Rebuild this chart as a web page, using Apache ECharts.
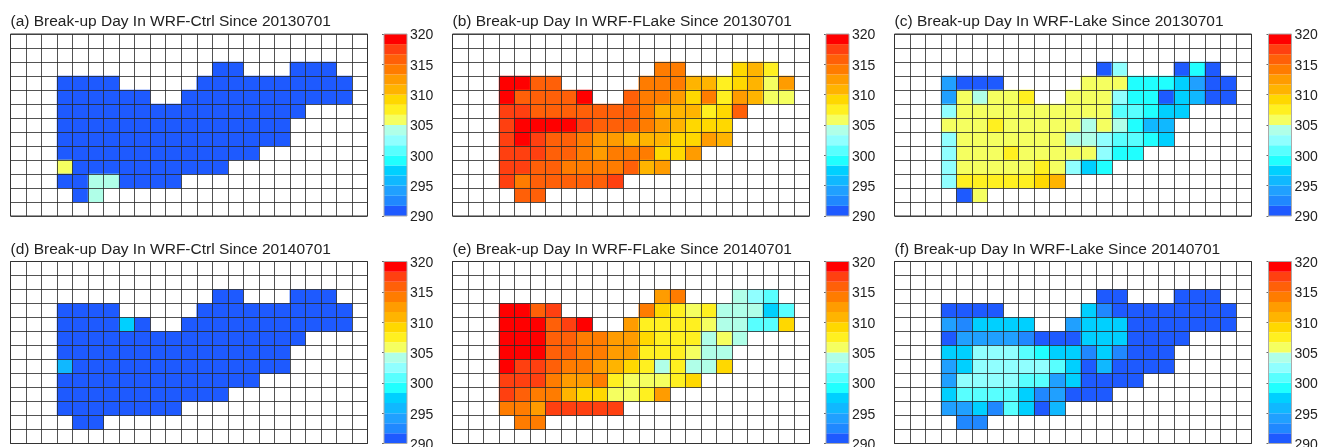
<!DOCTYPE html>
<html>
<head>
<meta charset="utf-8">
<style>html,body{margin:0;padding:0;background:#fff;overflow:hidden}#c{width:1318px;height:447px}</style>
<script src="https://cdn.jsdelivr.net/npm/echarts@6/dist/echarts.min.js"></script>
</head>
<body>
<div id="c"></div>
<script>
const _ = null;
const colCategories = ['c0','c1','c2','c3','c4','c5','c6','c7','c8','c9','c10','c11','c12','c13','c14','c15','c16','c17','c18','c19','c20','c21','c22'];
const rowCategories = ['r0','r1','r2','r3','r4','r5','r6','r7','r8','r9','r10','r11','r12'];
const scaleTicks = [290, 295, 300, 305, 310, 315, 320];
const levelEdges = [290,291.67,293.33,295,296.67,298.33,300,301.67,303.33,305,306.67,308.33,310,311.67,313.33,315,316.67,318.33,320];
const levelColors = ['#1e5aff','#2088ff','#20a0ff','#10b8ff','#00d0ff','#20ffff','#58ffff','#90ffff','#b0ffe8','#f5ff60','#fff020','#ffd800','#ffb400','#ff9c00','#ff7c00','#ff6008','#ff4010','#ff0000'];

const titleA = '(a) Break-up Day In WRF-Ctrl Since 20130701';
const titleB = '(b) Break-up Day In WRF-FLake Since 20130701';
const titleC = '(c) Break-up Day In WRF-Lake Since 20130701';
const titleD = '(d) Break-up Day In WRF-Ctrl Since 20140701';
const titleE = '(e) Break-up Day In WRF-FLake Since 20140701';
const titleF = '(f) Break-up Day In WRF-Lake Since 20140701';

const panelA = [
[_,_,_,_,_,_,_,_,_,_,_,_,_,_,_,_,_,_,_,_,_,_,_],
[_,_,_,_,_,_,_,_,_,_,_,_,_,_,_,_,_,_,_,_,_,_,_],
[_,_,_,_,_,_,_,_,_,_,_,_,_,291,291,_,_,_,291,291,291,_,_],
[_,_,_,291,291,291,291,_,_,_,_,_,291,291,291,291,291,291,291,291,291,291,_],
[_,_,_,291,291,291,291,291,291,_,_,291,291,291,291,291,291,291,291,291,291,291,_],
[_,_,_,291,291,291,291,291,291,291,291,291,291,291,291,291,291,291,291,_,_,_,_],
[_,_,_,291,291,291,291,291,291,291,291,291,291,291,291,291,291,291,_,_,_,_,_],
[_,_,_,291,291,291,291,291,291,291,291,291,291,291,291,291,291,291,_,_,_,_,_],
[_,_,_,291,291,291,291,291,291,291,291,291,291,291,291,291,_,_,_,_,_,_,_],
[_,_,_,306,291,291,291,291,291,291,291,291,291,291,_,_,_,_,_,_,_,_,_],
[_,_,_,291,291,304,304,291,291,291,291,_,_,_,_,_,_,_,_,_,_,_,_],
[_,_,_,_,291,304,_,_,_,_,_,_,_,_,_,_,_,_,_,_,_,_,_],
[_,_,_,_,_,_,_,_,_,_,_,_,_,_,_,_,_,_,_,_,_,_,_]
];
const panelB = [
[_,_,_,_,_,_,_,_,_,_,_,_,_,_,_,_,_,_,_,_,_,_,_],
[_,_,_,_,_,_,_,_,_,_,_,_,_,_,_,_,_,_,_,_,_,_,_],
[_,_,_,_,_,_,_,_,_,_,_,_,_,314,314,_,_,_,309,311,307.5,_,_],
[_,_,_,319,319,316,316,_,_,_,_,_,314,314,314,311,311,307.5,309,311,306,312.5,_],
[_,_,_,319,316,316,316,316,319,_,_,316,314,314,312.5,309,314,307.5,312.5,311,306,306,_],
[_,_,_,317.5,317.5,316,316,316,316,316,316,316,314,311,311,311,307.5,309,316,_,_,_,_],
[_,_,_,317.5,319,319,319,319,317.5,316,316,316,314,312.5,311,309,309,309,_,_,_,_,_],
[_,_,_,317.5,319,317.5,316,316,314,312.5,312.5,311,311,311,309,309,312.5,311,_,_,_,_,_],
[_,_,_,317.5,317.5,317.5,316,316,314,312.5,314,314,314,309,309,312.5,_,_,_,_,_,_,_],
[_,_,_,317.5,317.5,316,316,314,314,314,314,316,311,312.5,_,_,_,_,_,_,_,_,_],
[_,_,_,317.5,314,316,316,316,316,316,317.5,_,_,_,_,_,_,_,_,_,_,_,_],
[_,_,_,_,316,316,_,_,_,_,_,_,_,_,_,_,_,_,_,_,_,_,_],
[_,_,_,_,_,_,_,_,_,_,_,_,_,_,_,_,_,_,_,_,_,_,_]
];
const panelC = [
[_,_,_,_,_,_,_,_,_,_,_,_,_,_,_,_,_,_,_,_,_,_,_],
[_,_,_,_,_,_,_,_,_,_,_,_,_,_,_,_,_,_,_,_,_,_,_],
[_,_,_,_,_,_,_,_,_,_,_,_,_,291,302.5,_,_,_,291,299,291,_,_],
[_,_,_,294,291,291,291,_,_,_,_,_,306,306,306,299,299,299,297.5,294,291,291,_],
[_,_,_,294,306,304,306,306,307.5,_,_,306,306,306,302.5,299,299,291,297.5,296,291,291,_],
[_,_,_,302.5,306,306,306,306,306,306,306,306,306,306,301,301,299,297.5,297.5,_,_,_,_],
[_,_,_,306,306,306,307.5,306,306,306,306,306,304,306,304,299,296,296,_,_,_,_,_],
[_,_,_,302.5,306,306,306,306,306,306,306,304,304,302.5,301,301,299,297.5,_,_,_,_,_],
[_,_,_,302.5,306,306,306,307.5,306,306,306,306,306,302.5,299,299,_,_,_,_,_,_,_],
[_,_,_,302.5,306,306,306,306,306,307.5,306,302.5,297.5,299,_,_,_,_,_,_,_,_,_],
[_,_,_,302.5,307.5,307.5,307.5,307.5,307.5,309,311,_,_,_,_,_,_,_,_,_,_,_,_],
[_,_,_,_,291,306,_,_,_,_,_,_,_,_,_,_,_,_,_,_,_,_,_],
[_,_,_,_,_,_,_,_,_,_,_,_,_,_,_,_,_,_,_,_,_,_,_]
];
const panelD = [
[_,_,_,_,_,_,_,_,_,_,_,_,_,_,_,_,_,_,_,_,_,_,_],
[_,_,_,_,_,_,_,_,_,_,_,_,_,_,_,_,_,_,_,_,_,_,_],
[_,_,_,_,_,_,_,_,_,_,_,_,_,291,291,_,_,_,291,291,291,_,_],
[_,_,_,291,291,291,291,_,_,_,_,_,291,291,291,291,291,291,291,291,291,291,_],
[_,_,_,291,291,291,291,297.5,291,_,_,291,291,291,291,291,291,291,291,291,291,291,_],
[_,_,_,291,291,291,291,291,291,291,291,291,291,291,291,291,291,291,291,_,_,_,_],
[_,_,_,291,291,291,291,291,291,291,291,291,291,291,291,291,291,291,_,_,_,_,_],
[_,_,_,296,291,291,291,291,291,291,291,291,291,291,291,291,291,291,_,_,_,_,_],
[_,_,_,291,291,291,291,291,291,291,291,291,291,291,291,291,_,_,_,_,_,_,_],
[_,_,_,291,291,291,291,291,291,291,291,291,291,291,_,_,_,_,_,_,_,_,_],
[_,_,_,291,291,291,291,291,291,291,291,_,_,_,_,_,_,_,_,_,_,_,_],
[_,_,_,_,291,291,_,_,_,_,_,_,_,_,_,_,_,_,_,_,_,_,_],
[_,_,_,_,_,_,_,_,_,_,_,_,_,_,_,_,_,_,_,_,_,_,_]
];
const panelE = [
[_,_,_,_,_,_,_,_,_,_,_,_,_,_,_,_,_,_,_,_,_,_,_],
[_,_,_,_,_,_,_,_,_,_,_,_,_,_,_,_,_,_,_,_,_,_,_],
[_,_,_,_,_,_,_,_,_,_,_,_,_,312.5,314,_,_,_,304,302.5,301,_,_],
[_,_,_,319,319,316,317.5,_,_,_,_,_,314,309,307.5,306,307.5,304,304,304,297.5,301,_],
[_,_,_,319,319,319,316,317.5,319,_,_,312.5,307.5,307.5,307.5,307.5,306,304,304,301,301,309,_],
[_,_,_,319,319,319,316,316,314,314,312.5,312.5,309,307.5,307.5,307.5,304,306,304,_,_,_,_],
[_,_,_,319,319,319,316,316,314,314,312.5,312.5,307.5,307.5,307.5,306,304,304,_,_,_,_,_],
[_,_,_,319,317.5,317.5,316,314,314,312.5,311,309,307.5,304,307.5,304,304,309,_,_,_,_,_],
[_,_,_,317.5,317.5,317.5,314,312.5,312.5,314,307.5,306,306,306,307.5,309,_,_,_,_,_,_,_],
[_,_,_,317.5,316,314,314,311,309,309,306,306,307.5,312.5,_,_,_,_,_,_,_,_,_],
[_,_,_,314,314,312.5,317.5,317.5,317.5,317.5,317.5,_,_,_,_,_,_,_,_,_,_,_,_],
[_,_,_,_,314,314,_,_,_,_,_,_,_,_,_,_,_,_,_,_,_,_,_],
[_,_,_,_,_,_,_,_,_,_,_,_,_,_,_,_,_,_,_,_,_,_,_]
];
const panelF = [
[_,_,_,_,_,_,_,_,_,_,_,_,_,_,_,_,_,_,_,_,_,_,_],
[_,_,_,_,_,_,_,_,_,_,_,_,_,_,_,_,_,_,_,_,_,_,_],
[_,_,_,_,_,_,_,_,_,_,_,_,_,291,291,_,_,_,291,291,291,_,_],
[_,_,_,291,291,291,291,_,_,_,_,_,297.5,292.5,291,291,291,291,291,291,291,291,_],
[_,_,_,294,292.5,297.5,297.5,297.5,297.5,_,_,294,297.5,297.5,297.5,291,291,291,291,291,291,291,_],
[_,_,_,291,294,294,294,294,292.5,291,291,291,297.5,297.5,297.5,291,291,291,291,_,_,_,_],
[_,_,_,297.5,297.5,302.5,302.5,302.5,301,299,297.5,297.5,292.5,297.5,292.5,291,291,291,_,_,_,_,_],
[_,_,_,294,297.5,302.5,302.5,302.5,302.5,302.5,301,297.5,291,296,291,291,291,291,_,_,_,_,_],
[_,_,_,294,302.5,302.5,302.5,302.5,301,301,294,297.5,291,291,291,291,_,_,_,_,_,_,_],
[_,_,_,297.5,301,301,301,301,297.5,292.5,294,291,291,291,_,_,_,_,_,_,_,_,_],
[_,_,_,294,294,297.5,292.5,301,297.5,291,296,_,_,_,_,_,_,_,_,_,_,_,_],
[_,_,_,_,292.5,292.5,_,_,_,_,_,_,_,_,_,_,_,_,_,_,_,_,_],
[_,_,_,_,_,_,_,_,_,_,_,_,_,_,_,_,_,_,_,_,_,_,_]
];

const panels = [
  {title: titleA, rows: panelA, left: 10.5, top: 34, bar: 384},
  {title: titleB, rows: panelB, left: 452.5, top: 34, bar: 826},
  {title: titleC, rows: panelC, left: 894.5, top: 34, bar: 1268.5},
  {title: titleD, rows: panelD, left: 10.5, top: 261.5, bar: 384},
  {title: titleE, rows: panelE, left: 452.5, top: 261.5, bar: 826},
  {title: titleF, rows: panelF, left: 894.5, top: 261.5, bar: 1268.5}
];
const W = 357, H = 182, BW = 23;

const pieces = levelColors.map((color, i) => ({gte: levelEdges[i], lt: levelEdges[i + 1], color}));
const barCells = levelColors.map((color, i) => [levelEdges[i], levelEdges[i + 1], i]);

const option = {
  animation: false,
  backgroundColor: '#fff',
  title: [], grid: [], xAxis: [], yAxis: [], series: [],
  visualMap: {type: 'piecewise', show: false, pieces, seriesIndex: [0, 2, 4, 6, 8, 10]}
};

panels.forEach((p, k) => {
  option.title.push({
    text: p.title, left: p.left, top: p.top - 20, padding: 0,
    textStyle: {fontFamily: 'Liberation Sans', fontSize: 15.5, fontWeight: 'normal', color: '#222'}
  });
  const g1 = k * 2, g2 = k * 2 + 1;
  option.grid.push({left: p.left, top: p.top, width: W, height: H, show: true, z: 6, backgroundColor: 'transparent', borderColor: '#333', borderWidth: 1, outerBoundsMode: 'none', containLabel: false});
  option.grid.push({left: p.bar, top: p.top, width: BW, height: H, show: true, z: 6, backgroundColor: 'transparent', borderColor: '#aaa', borderWidth: 1, outerBoundsMode: 'none', containLabel: false});
  const grid = {lineStyle: {color: 'rgba(40,40,40,0.8)', width: 1}};
  option.xAxis.push({gridIndex: g1, type: 'category', data: colCategories, z: 5,
    axisLabel: {show: false}, axisTick: {show: false}, splitLine: {show: true, interval: 0, ...grid},
    axisLine: {show: false}});
  option.yAxis.push({gridIndex: g1, type: 'category', data: rowCategories, inverse: true, z: 5,
    axisLabel: {show: false}, axisTick: {show: false}, splitLine: {show: true, interval: 0, ...grid},
    axisLine: {show: false}});
  option.xAxis.push({gridIndex: g2, type: 'value', min: 0, max: 1, show: false});
  option.yAxis.push({gridIndex: g2, type: 'value', position: 'right', min: scaleTicks[0], max: scaleTicks[scaleTicks.length - 1], interval: 5, z: 5,
    axisLine: {show: false}, splitLine: {show: false},
    axisTick: {show: true, inside: true, length: 2, lineStyle: {color: '#666'}},
    axisLabel: {margin: 3, verticalAlign: 'top', lineHeight: 3, fontFamily: 'Liberation Sans', fontSize: 14, color: '#222', showMinLabel: true, showMaxLabel: true}});
  const data = [];
  p.rows.forEach((row, r) => row.forEach((v, c) => { if (v !== null) data.push([c, r, v]); }));
  option.series.push({type: 'heatmap', xAxisIndex: g1, yAxisIndex: g1, data, silent: true,
    itemStyle: {borderWidth: 0}, emphasis: {disabled: true}, progressive: 0});
  option.series.push({type: 'custom', xAxisIndex: g2, yAxisIndex: g2, silent: true, data: barCells, clip: true,
    renderItem: (params, api) => {
      const a = api.coord([0, api.value(0)]);
      const b = api.coord([1, api.value(1)]);
      return {type: 'rect', shape: {x: a[0], y: b[1], width: b[0] - a[0], height: a[1] - b[1]},
        style: {fill: levelColors[api.value(2)]}};
    }});
});

const chart = echarts.init(document.getElementById('c'), null, {renderer: 'canvas'});
chart.setOption(option);
</script>
</body>
</html>
